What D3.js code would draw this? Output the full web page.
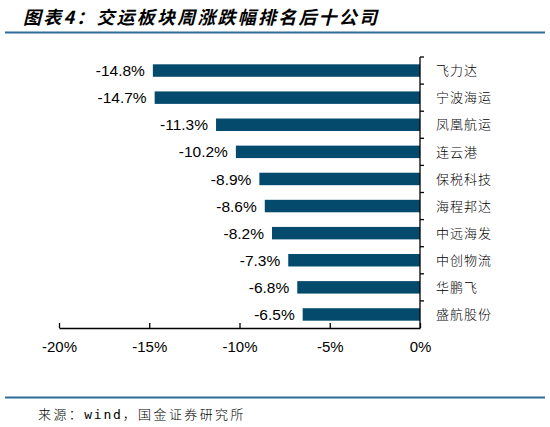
<!DOCTYPE html>
<html>
<head>
<meta charset="utf-8">
<script src="https://cdn.jsdelivr.net/npm/d3@7"></script>
<style>
  body { margin: 0; background: #fff; }
  svg { display: block; }
</style>
</head>
<body>
<svg id="chart"></svg>
<script>
// 交运板块周涨跌幅排名后十公司
const companies = ["飞力达", "宁波海运", "凤凰航运", "连云港", "保税科技", "海程邦达", "中远海发", "中创物流", "华鹏飞", "盛航股份"]
const changes = [-14.8, -14.7, -11.3, -10.2, -8.9, -8.6, -8.2, -7.3, -6.8, -6.5]
const xTicks = [-20, -15, -10, -5, 0]

const titleText = "图表4：交运板块周涨跌幅排名后十公司"

const data = companies.map((c, i) => ({ name: c, value: changes[i] }))

let svgWidth = 550
let svgHeight = 427
let margin = { left: 59, right: 130, top: 57, bottom: 99 }
let chartWidth = svgWidth - margin.left - margin.right
let chartHeight = svgHeight - margin.top - margin.bottom

const barColor = "#034a6d"
const lineColor = "#2e6d9a"
const cjk = "'Noto Sans CJK SC', sans-serif"
const latin = "'Liberation Sans', Arial, sans-serif"

const svg = d3.select("#chart")
    .attr("width", svgWidth)
    .attr("height", svgHeight)

// titulo
svg.append("text")
    .attr("x", 23)
    .attr("y", 24)
    .attr("font-family", cjk)
    .attr("font-size", 18)
    .attr("font-weight", "bold")
    .attr("font-style", "italic")
    .attr("letter-spacing", 2.2)
    .attr("fill", "#000")
    .text(titleText)

svg.append("line")
    .attr("x1", 5).attr("x2", 545)
    .attr("y1", 32.5).attr("y2", 32.5)
    .attr("stroke", lineColor)
    .attr("stroke-width", 2)

svg.append("line")
    .attr("x1", 5).attr("x2", 545)
    .attr("y1", 397.5).attr("y2", 397.5)
    .attr("stroke", lineColor)
    .attr("stroke-width", 2)

// fonte
const src = svg.append("text")
    .attr("x", 38)
    .attr("y", 419)
    .attr("font-family", cjk)
    .attr("font-size", 13)
    .attr("font-weight", 300)
    .attr("letter-spacing", 2.4)
    .attr("fill", "#000")
src.append("tspan").text("来源：")
src.append("tspan").attr("font-family", "'DejaVu Sans Mono', monospace").attr("letter-spacing", 1.8).text("wind")
src.append("tspan").text("，国金证券研究所")

// escalas
let xScale = d3.scaleLinear()
    .domain([-20, 0])
    .range([0, chartWidth])

let yScale = d3.scaleBand()
    .domain(companies)
    .range([0, chartHeight])
    .paddingInner(0.54)
    .paddingOuter(0.27)

const g = svg.append("g")
    .attr("transform", `translate(${margin.left},${margin.top})`)

// barras
g.selectAll("rect.bar")
    .data(data)
    .join("rect")
    .attr("class", "bar")
    .attr("fill", barColor)
    .attr("x", d => xScale(d.value))
    .attr("width", d => xScale(0) - xScale(d.value))
    .attr("y", d => yScale(d.name))
    .attr("height", yScale.bandwidth())

// rotulos de valor
g.selectAll("text.val")
    .data(data)
    .join("text")
    .attr("class", "val")
    .attr("x", d => xScale(d.value) - 8)
    .attr("y", d => yScale(d.name) + yScale.bandwidth() / 2)
    .attr("dy", "0.36em")
    .attr("text-anchor", "end")
    .attr("font-family", latin)
    .attr("font-size", 15.5)
    .attr("fill", "#000")
    .text(d => d.value.toFixed(1) + "%")

// eixo x
const xAxis = g.append("g")
    .attr("transform", `translate(0,${chartHeight})`)
    .call(d3.axisBottom(xScale)
        .tickValues(xTicks)
        .tickSize(-5)
        .tickSizeOuter(0)
        .tickPadding(13)
        .tickFormat(d => d + "%"))

xAxis.selectAll("text")
    .attr("font-family", latin)
    .attr("font-size", 15)
    .attr("fill", "#000")
xAxis.selectAll("line, path").attr("stroke", "#000").attr("stroke-width", 1.3)

// eixo y (lado direito, em x = 0%)
const yEdge = d3.scaleLinear().domain([0, companies.length]).range([0, chartHeight])
const yAxis = g.append("g")
    .attr("transform", `translate(${xScale(0)},0)`)

yAxis.append("line")
    .attr("y1", 0).attr("y2", chartHeight)
    .attr("stroke", "#000").attr("stroke-width", 1.3)

yAxis.selectAll("line.tk")
    .data(d3.range(companies.length))
    .join("line")
    .attr("class", "tk")
    .attr("x1", 0).attr("x2", 4)
    .attr("y1", d => yEdge(d)).attr("y2", d => yEdge(d))
    .attr("stroke", "#000").attr("stroke-width", 1.3)

yAxis.selectAll("text")
    .data(companies)
    .join("text")
    .attr("x", 16)
    .attr("y", d => yScale(d) + yScale.bandwidth() / 2)
    .attr("dy", "0.36em")
    .attr("font-family", cjk)
    .attr("font-size", 13)
    .attr("font-weight", 300)
    .attr("letter-spacing", 1)
    .attr("fill", "#000")
    .text(d => d)
</script>
</body>
</html>
